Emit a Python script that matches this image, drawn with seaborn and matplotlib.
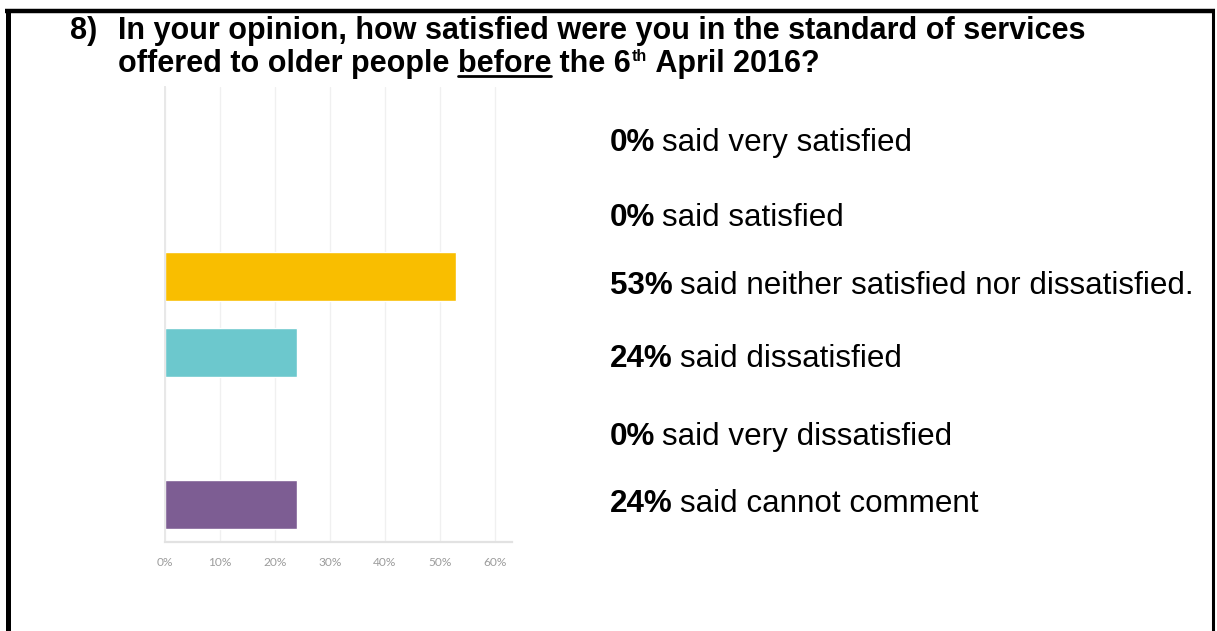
import matplotlib
matplotlib.use("Agg")
import matplotlib.pyplot as plt
import seaborn as sns
import pandas as pd
from matplotlib.lines import Line2D

# Survey responses (percent of respondents)
categories = ["Very satisfied", "Satisfied", "Neither satisfied nor dissatisfied",
              "Dissatisfied", "Very dissatisfied", "Cannot comment"]
percentages = [0, 0, 53, 24, 0, 24]
bar_colors = ["#E9637A", "#A6CD4E", "#F9BE00", "#6CC8CD", "#F18D46", "#7D5D93"]
tick_values = [0, 10, 20, 30, 40, 50, 60]
tick_labels = [f"{v}%" for v in tick_values]

summary_pct = ["0%", "0%", "53%", "24%", "0%", "24%"]
summary_text = ["said very satisfied", "said satisfied",
                "said neither satisfied nor dissatisfied.", "said dissatisfied",
                "said very dissatisfied", "said cannot comment"]

W, H = 1217, 631
sns.set_theme(style="white")
plt.rcParams["font.family"] = ["Liberation Sans", "DejaVu Sans"]

fig = plt.figure(figsize=(W / 100, H / 100), dpi=100)
fig.patch.set_facecolor("white")


def fx(px):
    return px / W


def fy(py):
    return 1 - py / H


# Bar chart panel
ax = fig.add_axes([fx(165), fy(542), fx(512) - fx(165), fy(86.5) - fy(542)])
df = pd.DataFrame({"category": categories, "pct": percentages})
sns.barplot(data=df, x="pct", y="category", hue="category", palette=bar_colors,
            legend=False, width=0.645, orient="h", ax=ax, saturation=1)
ax.set_xlim(0, 63.1)
ax.set_ylim(5.5, -0.5)
ax.set_xticks(tick_values)
ax.set_xticklabels(tick_labels, fontsize=8.6, color="#9c9c9c", family="Lato")
ax.set_yticks([])
ax.set_xlabel("")
ax.set_ylabel("")
ax.tick_params(axis="x", length=0, pad=11)
ax.xaxis.grid(True, color="#f0f0f0", linewidth=1)
ax.set_axisbelow(True)
for side in ["top", "right"]:
    ax.spines[side].set_visible(False)
ax.spines["bottom"].set_color("#e2e2e2")
ax.spines["bottom"].set_linewidth(1.6)
ax.spines["left"].set_color("#e8e8e8")
ax.spines["left"].set_linewidth(1.4)

# Page frame
fig.add_artist(Line2D([fx(5), fx(1215)], [fy(11), fy(11)], color="black", linewidth=3.2,
                      transform=fig.transFigure, solid_capstyle="butt"))
fig.add_artist(Line2D([fx(7.5), fx(7.5)], [fy(9), fy(640)], color="black", linewidth=3.6,
                      transform=fig.transFigure, solid_capstyle="butt"))
fig.add_artist(Line2D([fx(1213), fx(1213)], [fy(9), fy(640)], color="black", linewidth=2.2,
                      transform=fig.transFigure, solid_capstyle="butt"))

renderer = fig.canvas.get_renderer()


def put(px, py, s, size, weight="normal", va="baseline"):
    t = fig.text(fx(px), fy(py), s, fontsize=size, fontweight=weight, color="black",
                 ha="left", va=va)
    bb = t.get_window_extent(renderer=renderer)
    return t, bb


# Question title
title_size = 22
base1, base2 = 39, 72
put(70, base1, "8)", title_size, "bold")
put(118, base1, "In your opinion, how satisfied were you in the standard of services",
    title_size, "bold")
x = 118
_, bb = put(x, base2, "offered to older people ", title_size, "bold")
x = bb.x1
_, bb = put(x, base2, "before", title_size, "bold")
fig.add_artist(Line2D([fx(bb.x0), fx(bb.x1)], [fy(base2 + 4), fy(base2 + 4)], color="black",
                      linewidth=2.0, transform=fig.transFigure))
x = bb.x1
_, bb = put(x, base2, " the 6", title_size, "bold")
x = bb.x1
_, bb = put(x + 0.5, base2 - 11, "th", 11.5, "bold")
x = bb.x1
put(x + 1, base2, " April 2016?", title_size, "bold")

# Summary lines beside the chart
line_centers = [140, 215, 283, 356, 434, 501]
for pct, txt, yc in zip(summary_pct, summary_text, line_centers):
    _, bb = put(610, yc + 11, pct, 22.6, "bold")
    put(bb.x1 + 7, yc + 11, txt, 22.6)

fig.savefig("out.png", dpi=100, facecolor="white")
